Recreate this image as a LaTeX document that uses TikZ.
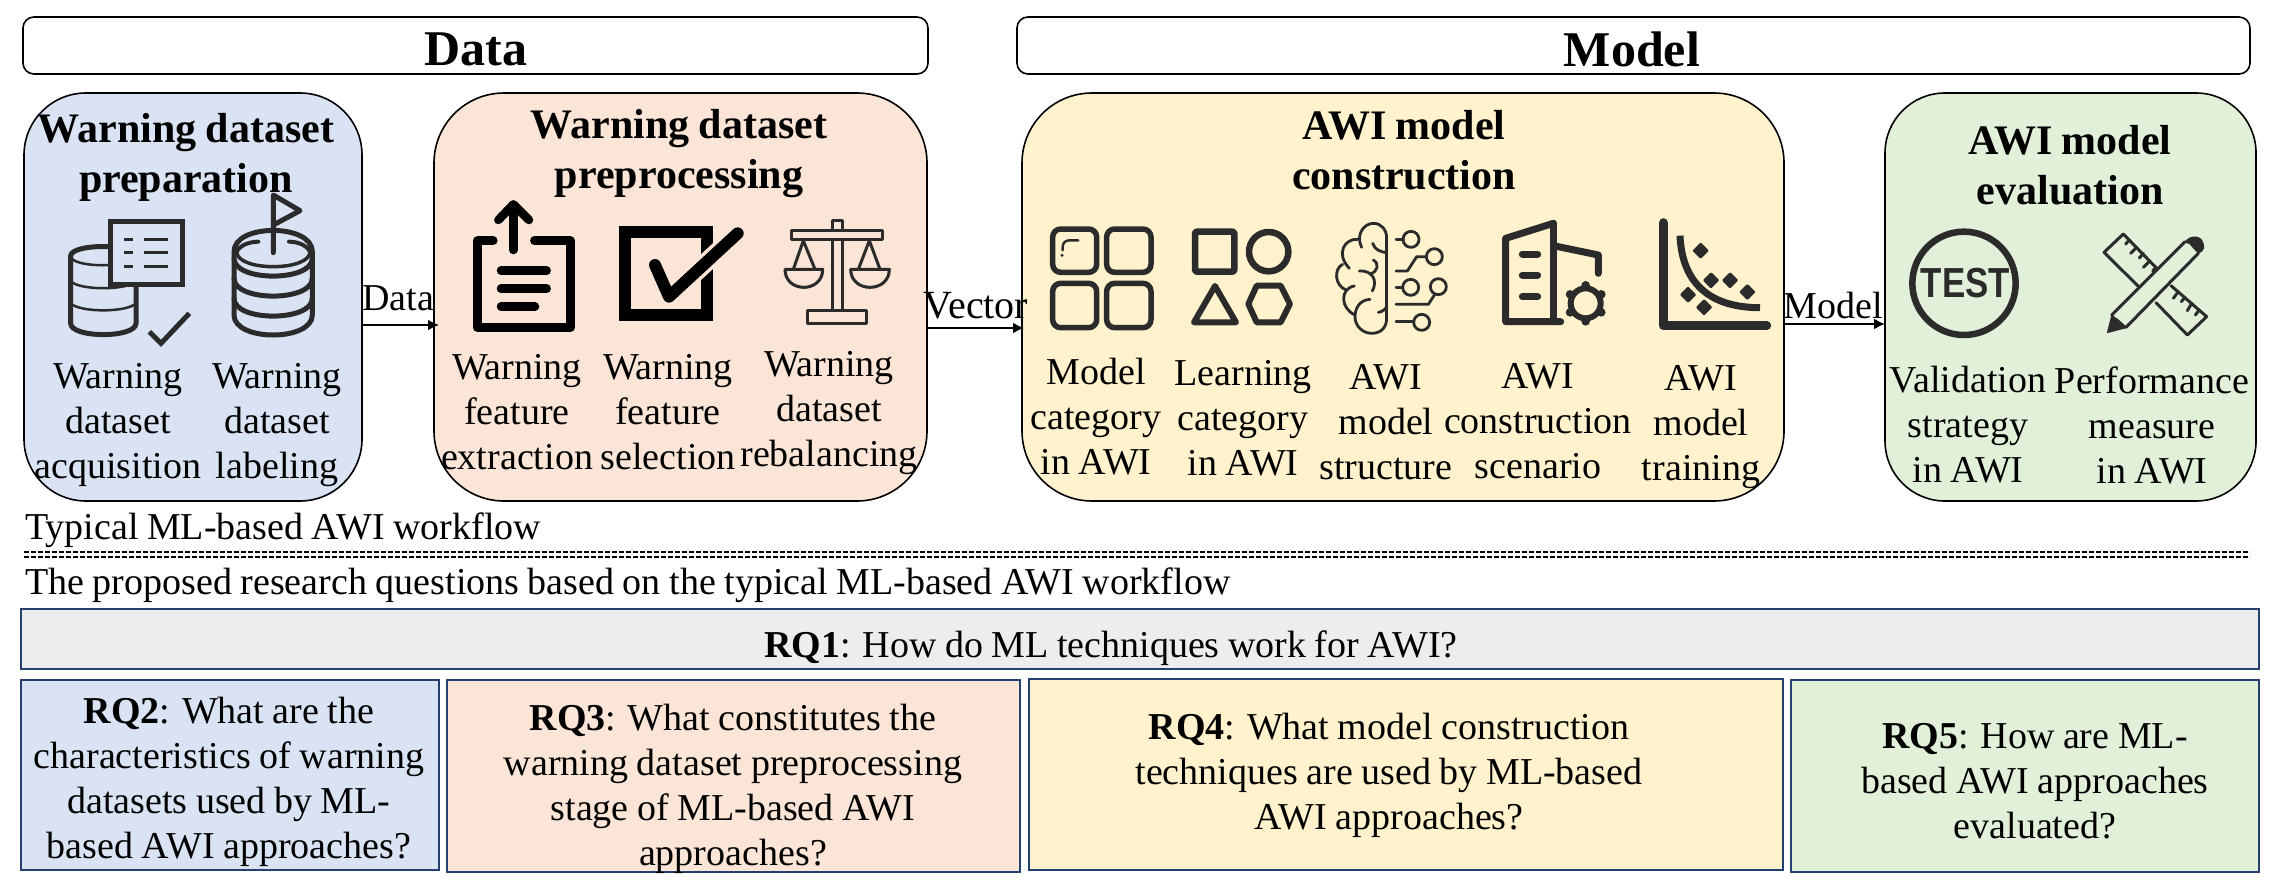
\documentclass[tikz,border=0pt]{standalone}
\usepackage{fontspec}
\setmainfont[WordSpace=0.9]{Liberation Serif}
\newfontfamily\iconsans{Liberation Sans}
\usetikzlibrary{arrows.meta,calc}
\definecolor{cblue}{HTML}{DAE3F3}
\definecolor{corange}{HTML}{FBE5D6}
\definecolor{cyellow}{HTML}{FFF2CC}
\definecolor{cgreen}{HTML}{E2F0D9}
\definecolor{cgray}{HTML}{EDEDED}
\definecolor{rqline}{HTML}{24406E}
\definecolor{ink}{HTML}{2B2B2B}
\tikzset{
  z/.style 2 args={shift={(#1,#2)},x=0.33333pt,y=-0.33333pt},
  stage/.style={draw=black,line width=1.6pt,anchor=north west,inner sep=0pt,outer sep=0pt},
  header/.style={draw=black,line width=1.6pt,rounded corners=11pt,anchor=north west,inner sep=0pt,outer sep=0pt},
  htext/.style={inner sep=0pt,font=\fontsize{50}{50}\selectfont\bfseries},
  rq/.style={draw=rqline,line width=2pt,anchor=north west,inner sep=0pt,outer sep=0pt},
  title/.style={align=center,inner sep=0pt,font=\fontsize{42}{50}\selectfont\bfseries},
  lab/.style={align=center,inner sep=0pt,font=\fontsize{38}{45}\selectfont},
  flow/.style={anchor=west,inner sep=0pt,font=\fontsize{38}{38}\selectfont},
  link/.style={draw=black,line width=2pt,-{Latex[length=11pt,width=11pt]}},
  ic/.style={draw=ink,line width=#1,line cap=round,line join=round},
  ic/.default=2.8pt
}
\begin{document}
\begin{tikzpicture}[x=1pt,y=-1pt]
\useasboundingbox (0,0) rectangle (2281,895);
% headers
\node[header,minimum width=905pt,minimum height=57pt] (hdata) at (23,17) {};
\node[htext] (tdata) at (476,49) {Data};
\node[header,minimum width=1233pt,minimum height=57pt] (hmodel) at (1017,17) {};
\node[htext] (tmodel) at (1632,49) {Model};
% stages
\node[stage,fill=cblue,rounded corners=62pt,minimum width=338pt,minimum height=408pt] (blue) at (24,93) {};
\node[stage,fill=corange,rounded corners=70pt,minimum width=493pt,minimum height=408pt] (orange) at (434,93) {};
\node[stage,fill=cyellow,rounded corners=70pt,minimum width=762pt,minimum height=408pt] (yellow) at (1022,93) {};
\node[stage,fill=cgreen,rounded corners=60pt,minimum width=371pt,minimum height=408pt] (green) at (1885,93) {};
% connectors
\draw[link] ([yshift=-28pt]blue.east) -- ([yshift=-28pt,xshift=5pt]blue.east -| orange.west);
\draw[link] ([yshift=-31pt]orange.east) -- ([yshift=-31pt,xshift=2pt]orange.east -| yellow.west);
\draw[link] ([yshift=-27pt]yellow.east) -- ([yshift=-27pt]yellow.east -| green.west);
\node[lab] (ldata) at (398,298) {Data};
\node[lab,font=\fontsize{40}{45}\selectfont] (lvector) at (976,306) {Vector};
\node[lab] (lmodel) at (1833,305) {Model};
% titles
\node[title] (t1) at (186,157) {Warning dataset\\preparation};
\node[title] (t2) at (679,154) {Warning dataset\\preprocessing};
\node[title] (t3) at (1404,150) {AWI model\\construction};
\node[title] (t4) at (2070,165) {AWI model\\evaluation};
% labels
\node[lab] (a1) at (118,425) {Warning\\dataset\\acquisition};
\node[lab] (a2) at (277,425) {Warning\\dataset\\labeling};
\node[lab] (b1) at (517,412) {Warning\\feature\\extraction};
\node[lab] (b2) at (668,412) {Warning\\feature\\selection};
\node[lab] (b3) at (829,413) {Warning\\dataset\\rebalancing};
\node[lab] (c1) at (1096,416.5) {Model\\category\\in AWI};
\node[lab] (c2) at (1243,418.5) {Learning\\category\\in AWI};
\node[lab] (c3) at (1386,422) {AWI\\model\\structure};
\node[lab] (c4) at (1538,421) {AWI\\construction\\scenario};
\node[lab] (c5) at (1701,427) {AWI\\model\\training};
\node[lab] (d1) at (1968,424.5) {Validation\\strategy\\in AWI};
\node[lab] (d2) at (2152,425) {Performance\\measure\\in AWI};
% separators and captions
\node[flow] (cap1) at (25,530) {Typical ML-based AWI workflow};
\coordinate (da) at (24,552); \coordinate (db) at (2250,552);
\draw[line width=1.6pt,dash pattern=on 5pt off 2pt] (da) -- (db);
\draw[line width=1.6pt,dash pattern=on 5pt off 2pt] ([yshift=-5pt]da) -- ([yshift=-5pt]db);
\node[flow] (cap2) at (25,585) {The proposed research questions based on the typical ML-based AWI workflow};
% research questions
\node[rq,fill=cgray,minimum width=2238pt,minimum height=60pt] (r1) at (21,609) {};
\node[lab] (r1t) at (1111,648) {\textbf{RQ1}: How do ML techniques work for AWI?};
\node[rq,fill=cblue,minimum width=418pt,minimum height=190pt] (r2) at (21,680) {};
\node[lab] (r2t) at (229,782) {\textbf{RQ2}: What are the\\characteristics of warning\\datasets used by ML-\\based AWI approaches?};
\node[rq,fill=corange,minimum width=573pt,minimum height=192pt] (r3) at (447,680) {};
\node[lab] (r3t) at (733,789) {\textbf{RQ3}: What constitutes the\\warning dataset preprocessing\\stage of ML-based AWI\\approaches?};
\node[rq,fill=cyellow,minimum width=754pt,minimum height=191pt] (r4) at (1029,679) {};
\node[lab] (r4t) at (1389,775) {\textbf{RQ4}: What model construction\\techniques are used by ML-based\\AWI approaches?};
\node[rq,fill=cgreen,minimum width=468pt,minimum height=192pt] (r5) at (1791,680) {};
\node[lab] (r5t) at (2035,781) {\textbf{RQ5}: How are ML-\\based AWI approaches\\evaluated?};
% icon: database + document
\begin{scope}[z={60}{190}]
  \draw[ic=5pt] (32,198) .. controls (32,160) and (228,160) .. (228,198);
  \draw[ic=5pt] (32,198) -- (32,400) .. controls (32,445) and (228,445) .. (228,400) -- (228,198);
  \draw[ic=2.5pt] (32,198) .. controls (32,235) and (228,235) .. (228,198);
  \draw[ic=2.5pt] (32,272) .. controls (50,302) and (210,302) .. (228,272);
  \draw[ic=2.5pt] (32,340) .. controls (60,368) and (200,368) .. (228,340);
  \draw[draw=ink,fill=cblue,line width=5.5pt] (152,95) rectangle (367,283);
  \foreach \yy in {148,188,230} {
    \draw[draw=ink,line width=3pt] (193,\yy) -- (220,\yy);
    \draw[draw=ink,line width=3pt] (252,\yy) -- (325,\yy);
  }
  \draw[draw=ink,line width=5pt] (268,425) -- (303,460) -- (388,370);
\end{scope}
% icon: labelled database
\begin{scope}[z={60}{190}]
  \draw[ic=5pt] (522,185) .. controls (522,100) and (757,100) .. (757,185) -- (757,375) .. controls (757,455) and (522,455) .. (522,375) -- cycle;
  \draw[ic=3.5pt] (530,185) .. controls (530,245) and (750,245) .. (750,185);
  \draw[ic=5pt] (522,205) .. controls (522,276) and (757,276) .. (757,205);
  \draw[ic=5pt] (522,265) .. controls (522,336) and (757,336) .. (757,265);
  \draw[ic=5pt] (522,325) .. controls (522,396) and (757,396) .. (757,325);
  \draw[ic=4pt] (595,155) .. controls (570,155) and (540,165) .. (530,185);
  \draw[ic=4pt] (687,155) .. controls (712,155) and (740,165) .. (750,185);
  \draw[ic=5pt] (640,188) -- (640,15) -- (720,62) -- (640,105);
\end{scope}
% icon: extraction
\begin{scope}[z={465}{195}]
  \draw[draw=black,line width=8.5pt,line cap=round,line join=round] (85,137) -- (37,137) -- (37,398) -- (316,398) -- (316,137) -- (208,137);
  \draw[draw=black,line width=8.5pt,line cap=round,line join=round] (145,165) -- (145,30);
  \draw[draw=black,line width=8.5pt,line cap=round,line join=round] (100,75) -- (145,28) -- (192,75);
  \draw[draw=black,line width=8.5pt,line cap=round] (108,227) -- (245,227);
  \draw[draw=black,line width=8.5pt,line cap=round] (108,281) -- (245,281);
  \draw[draw=black,line width=8.5pt,line cap=round] (108,335) -- (210,335);
  % icon: selection
  \draw[draw=black,line width=12.3pt] (480,110) rectangle (727,361);
  \draw[draw=corange,line width=19pt,line cap=round,line join=round] (570,210) -- (612,305) -- (818,115);
  \draw[draw=black,line width=12pt,line cap=round,line join=round] (570,210) -- (612,305) -- (818,115);
\end{scope}
% icon: balance
\begin{scope}[z={770}{210}]
  \draw[ic=3pt] (65,60) rectangle (337,88);
  \draw[ic=3pt] (186,55) -- (186,32) -- (216,32) -- (216,55);
  \draw[ic=3pt] (186,90) -- (186,300);
  \draw[ic=3pt] (216,90) -- (216,300);
  \draw[ic=3pt] (112,300) rectangle (290,340);
  \draw[ic=3pt] (70,178) -- (100,92) -- (135,178);
  \draw[ic=3pt] (265,178) -- (298,92) -- (330,178);
  \draw[ic=3pt] (45,178) -- (158,178) .. controls (158,250) and (45,250) .. (45,178);
  \draw[ic=3pt] (242,178) -- (358,178) .. controls (358,250) and (242,250) .. (242,178);
\end{scope}
% icon: model category
\begin{scope}[z={1040}{215}]
  \draw[ic=5.5pt,rounded corners=8pt] (38,42) rectangle (170,172);
  \draw[ic=5.5pt,rounded corners=8pt] (200,42) rectangle (333,172);
  \draw[ic=5.5pt,rounded corners=8pt] (38,205) rectangle (170,338);
  \draw[ic=5.5pt,rounded corners=8pt] (200,205) rectangle (333,338);
  \draw[ic=2.4pt] (115,76) -- (88,76) .. controls (76,76) and (68,84) .. (68,96) -- (68,106);
  \fill[ink] (66,121) circle [radius=5];
  % icon: learning category
  \draw[ic=6.5pt,rounded corners=2pt] (465,50) rectangle (583,170);
  \draw[ic=6.5pt] (686,110) circle [radius=59];
  \draw[ic=6pt] (525,213) -- (462,322) -- (588,322) -- cycle;
  \draw[ic=6pt] (625,267) -- (650,212) -- (722,212) -- (750,267) -- (722,322) -- (650,322) -- cycle;
\end{scope}
% icon: brain
\begin{scope}[z={1320}{210}]
  \draw[ic] (200,85) -- (200,325);
  \draw[ic] (125,112) .. controls (105,70) and (135,40) .. (160,40) .. controls (185,40) and (200,60) .. (200,85);
  \draw[ic] (113,88) .. controls (75,85) and (45,130) .. (88,175);
  \draw[ic] (68,163) .. controls (42,175) and (42,225) .. (78,240);
  \draw[ic] (103,228) .. controls (60,235) and (60,295) .. (105,315);
  \draw[ic] (150,268) .. controls (115,270) and (105,300) .. (105,320) .. controls (105,350) and (130,370) .. (155,370) .. controls (185,370) and (200,350) .. (200,325);
  \draw[ic] (158,100) .. controls (165,120) and (180,125) .. (200,128);
  \draw[ic] (160,150) .. controls (178,160) and (175,185) .. (150,192);
  \draw[ic] (118,183) .. controls (155,180) and (175,210) .. (157,243);
  \draw[ic] (175,307) .. controls (190,305) and (197,295) .. (200,290);
  \draw[ic] (273,88) circle [radius=24];
  \draw[ic] (343,140) circle [radius=24];
  \draw[ic] (272,232) circle [radius=24];
  \draw[ic] (355,230) circle [radius=24];
  \draw[ic] (305,337) circle [radius=24];
  \draw[ic] (228,88) -- (250,88);
  \draw[ic] (228,183) -- (262,183) -- (290,140) -- (320,140);
  \draw[ic] (228,232) -- (249,232);
  \draw[ic] (228,283) -- (325,283) -- (345,252);
  \draw[ic] (228,335) -- (282,335);
  % icon: construction scenario
  \draw[ic=7pt] (700,40) -- (557,85) -- (557,335) -- (722,335);
  \draw[ic=7pt] (700,40) -- (700,335);
  \draw[ic=7pt] (705,108) -- (835,135) -- (835,190);
  \draw[ic=7pt] (607,132) -- (653,132);
  \draw[ic=7pt] (607,195) -- (653,195);
  \draw[ic=7pt] (607,260) -- (653,260);
  \draw[ic=6pt] (797,280) circle [radius=45];
  \foreach \aa in {90,30,-30,-90,-150,150} \fill[ink] (797,280) ++(\aa:54) circle [radius=13];
\end{scope}
% icon: training plot
\begin{scope}[z={1650}{210}]
  \draw[ic=9pt] (40,38) -- (40,347) -- (350,347);
  \draw[draw=ink,line width=7pt] (90,77) .. controls (95,200) and (160,293) .. (330,293);
  \foreach \px/\py in {152/122,183/211,240/211,292/246,114/254,162/292}
    \fill[ink,rounded corners=1.2pt] (\px,\py-25) -- (\px+25,\py) -- (\px,\py+25) -- (\px-25,\py) -- cycle;
\end{scope}
% icon: test
\begin{scope}[z={1900}{220}]
  \draw[ic=6.5pt] (192,190) circle [radius=155];
  \node[inner sep=0pt,text=ink,xscale=.83,font=\fontsize{42}{42}\selectfont\iconsans\bfseries] (test) at (196,190) {TEST};
\end{scope}
% icon: ruler and pencil
\begin{scope}[z={2090}{220}]
  \draw[ic=3pt] (200,145) -- (100,42) -- (42,97) -- (148,202);
  \draw[ic=3pt] (243,197) -- (350,290) -- (292,345) -- (198,248);
  \foreach \ax/\ay/\bx/\by in {118/60/107/72,140/82/122/100,160/100/148/114,180/122/160/142,198/142/188/153,265/215/250/235,285/232/274/245,305/250/292/272,328/270/316/285}
    \draw[ic=3pt] (\ax,\ay) -- (\bx,\by);
  \draw[ic=3pt] (65,285) -- (285,65);
  \draw[ic=3pt] (108,322) -- (325,100);
  \draw[ic=3pt] (78,298) -- (105,322);
  \fill[ink] (283,67) .. controls (300,40) and (345,42) .. (342,85) .. controls (342,92) and (335,95) .. (325,102) -- (298,72) -- cycle;
  \fill[ink,rounded corners=1pt] (65,282) -- (50,340) -- (110,324) -- cycle;
\end{scope}
\end{tikzpicture}
\end{document}
